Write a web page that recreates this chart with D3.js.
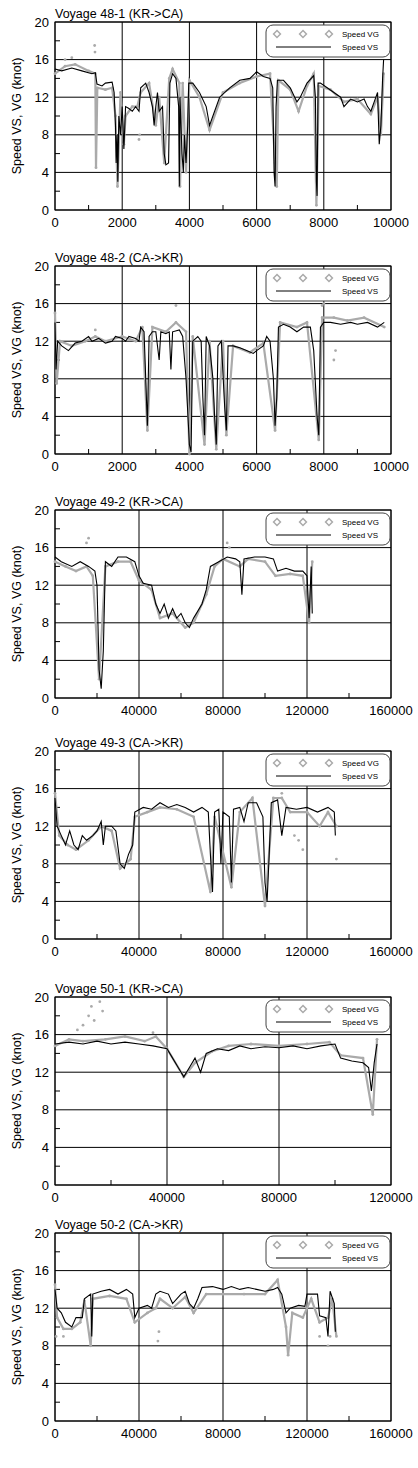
<!DOCTYPE html><html><head><meta charset="utf-8">
<script src="https://cdn.jsdelivr.net/npm/d3@7"></script>
<style>body{margin:0;background:#fff}svg{font-family:"Liberation Sans",Arial,sans-serif}</style></head><body>
<svg id="c" width="418" height="1468"></svg>
<script>
const titles=["Voyage 48-1 (KR->CA)","Voyage 48-2 (CA->KR)","Voyage 49-2 (KR->CA)","Voyage 49-3 (CA->KR)","Voyage 50-1 (KR->CA)","Voyage 50-2 (CA->KR)"];
const xMax=[10000,10000,160000,160000,120000,160000];
const xTickStep=[2000,2000,40000,40000,40000,40000];
const yTicks=[0,4,8,12,16,20];
const vs1=[[0,15],[200,14.8],[500,15.1],[800,14.8],[1100,14.5],[1200,14.6],[1250,13.4],[1400,13.2],[1500,13.5],[1700,13.6],[1760,12.5],[1800,9],[1820,5],[1850,8],[1870,3],[1900,10],[1950,8],[2000,11],[2050,6.5],[2100,11],[2200,10.8],[2300,10.5],[2400,11],[2500,10.5],[2550,13],[2700,13.5],[2800,12.5],[2900,11],[2950,9],[3000,11],[3050,12.5],[3100,10.5],[3200,11],[3250,6],[3300,4.8],[3380,5],[3420,13.5],[3500,14.5],[3600,14],[3680,11],[3700,2.5],[3720,12],[3780,6],[3820,4],[3850,8],[3900,5],[3950,9],[3980,13.5],[4100,13.5],[4300,12.5],[4500,11],[4600,9],[4700,10],[4900,12],[5200,13],[5500,13.8],[5800,14],[6000,14.7],[6200,14.2],[6400,14],[6480,13],[6520,4],[6550,2.5],[6580,11],[6620,13.8],[6800,13.8],[7000,13],[7200,11.5],[7300,12],[7500,13.5],[7700,14.3],[7750,12],[7780,3],[7800,1.5],[7830,13.5],[7900,13.5],[8100,13],[8300,12.5],[8500,12],[8600,11],[8800,11.8],[9000,11.5],[9200,11.8],[9300,11],[9400,10.5],[9500,11.5],[9600,12.5],[9650,7],[9700,9],[9750,14],[9780,16]];
const vg1=[[0,14.5],[300,15.3],[600,15.5],[1000,14.8],[1200,14.5],[1220,4.5],[1260,13],[1500,12.8],[1700,13],[1800,10],[1860,2.5],[1950,12.5],[2050,7],[2100,10],[2300,11],[2450,11],[2550,12.5],[2800,13.5],[3000,9],[3100,12],[3250,5],[3400,14],[3500,15],[3700,13.5],[3720,2.5],[3800,13.5],[3900,4],[4000,13.8],[4300,12],[4600,8.5],[5000,12.5],[5500,13.5],[6000,14.2],[6400,14.5],[6550,5],[6600,2.5],[6650,13.8],[7000,12.8],[7250,10.5],[7500,13.2],[7700,14.5],[7780,0.5],[7850,13.2],[8200,12.8],[8600,11.5],[9000,11.8],[9400,10.2],[9600,12],[9700,8],[9780,14.5]];
const out1=[[1180,17.5],[1190,16.8],[2500,7.5],[2520,8],[300,16],[500,16.2]];
const vs2=[[0,14],[30,9],[80,12],[200,11.5],[400,11],[600,11.8],[800,12],[1000,12.5],[1100,12],[1300,12.3],[1500,11.8],[1700,12],[1800,12.5],[2000,12.3],[2100,12],[2200,12.5],[2400,12.3],[2500,12],[2550,13.5],[2650,13],[2700,8],[2750,3],[2800,12.5],[2900,13],[3000,13],[3100,10],[3150,13],[3300,12.8],[3400,13],[3450,9],[3500,13],[3700,13.2],[3800,12.5],[3900,8],[4000,1],[4050,0.2],[4100,12],[4250,12.5],[4350,12],[4400,6],[4450,2],[4500,12.5],[4600,11.5],[4700,8],[4750,4],[4800,1],[4850,11.5],[4950,12],[5050,5],[5100,2.5],[5150,11.5],[5300,11.5],[5500,11.3],[5700,11],[5900,10.7],[6000,11],[6200,11.5],[6300,12.5],[6400,12],[6500,8],[6550,3],[6600,6],[6650,13.5],[6800,13.8],[7000,13.5],[7200,13],[7400,13.5],[7600,13.5],[7700,11],[7800,4],[7850,2],[7900,13.5],[8000,14],[8200,14],[8500,13.8],[8800,14],[9000,13.8],[9300,14],[9600,13.5],[9800,14]];
const vg2=[[0,15],[50,7.5],[150,12],[500,11.5],[900,12],[1200,12.5],[1500,12],[2000,12.5],[2400,12],[2600,13.5],[2750,2.5],[2900,13.5],[3300,13],[3600,14],[3900,13],[4000,0],[4100,12.5],[4450,1],[4600,12],[4800,0.5],[5000,12],[5100,2],[5300,11.5],[5800,10.8],[6200,11.8],[6550,2.5],[6700,14],[7200,13.5],[7500,14],[7850,1.5],[7950,14.5],[8300,14.5],[8700,14.2],[9200,14.5],[9800,13.5]];
const out2=[[3600,15.8],[7950,15.8],[8000,16],[1200,13.2],[8300,10],[8350,11]];
const vs3=[[0,15],[3000,14.5],[8000,14],[12000,14.5],[16000,14],[19000,13.5],[20000,12],[21000,3],[22000,1],[23000,5],[24000,14.5],[27000,14],[30000,15],[34000,15],[38000,14.5],[40000,13],[42000,12.2],[46000,12],[48000,10],[50000,9],[52000,10],[54000,8.5],[56000,9.5],[58000,8.5],[60000,9],[62000,8],[64000,7.5],[66000,8.5],[70000,10],[72000,11.5],[74000,14],[78000,14.5],[82000,15],[86000,14.8],[88000,14.5],[89000,11],[90000,14.8],[95000,15],[100000,15],[104000,14.8],[106000,13.5],[110000,13.8],[114000,13.5],[118000,13.5],[120000,13],[121000,8.5],[122000,14],[122500,9]];
const vg3=[[0,14.5],[5000,14],[10000,13.5],[15000,14],[18000,13],[21000,2],[24000,14],[30000,14.5],[36000,14.5],[40000,12.5],[46000,11.5],[50000,8.5],[56000,9],[62000,7.5],[66000,8],[72000,11],[76000,14],[80000,14.8],[88000,14],[92000,14.8],[100000,14.5],[105000,13],[112000,13.2],[118000,13],[121000,8],[122500,14.5]];
const out3=[[15000,16.5],[16000,17],[82000,16.5],[83000,16]];
const vs4=[[0,15],[1000,12],[3000,11],[5000,10],[7000,11.5],[9000,10],[11000,9.5],[13000,11],[15000,10.5],[18000,11],[20000,11.5],[22000,12.5],[23000,10],[24000,12],[27000,12],[29000,11.5],[31000,8],[33000,7.5],[35000,9],[37000,10],[38000,13.5],[42000,14],[46000,13.8],[50000,14.5],[54000,14],[58000,14.3],[62000,14],[66000,13.5],[70000,14],[73000,13.5],[74000,9],[75000,5],[76000,13.5],[78000,13.8],[79000,8],[80000,13.5],[83000,13],[84000,6],[85000,13.8],[88000,14],[90000,12.5],[92000,14.5],[96000,14.5],[99000,13],[100000,6],[101000,4],[102000,9],[103000,14.5],[106000,14.8],[108000,11],[110000,14],[115000,13.8],[120000,14],[125000,13.5],[130000,14],[133000,13.5],[133500,11]];
const vg4=[[0,15.5],[2000,11],[6000,10],[10000,9.5],[16000,10.5],[22000,12],[27000,11.5],[31000,7.5],[36000,8.5],[38000,13],[44000,13.5],[50000,14],[58000,13.8],[66000,13],[74000,5],[76000,13],[84000,5.5],[88000,13.5],[94000,15],[100000,3.5],[104000,15],[108000,15],[112000,13.5],[120000,13.5],[126000,12],[130000,13.5],[134000,12]];
const out4=[[114000,11],[116000,10.5],[118000,9.5],[134000,8.5],[108000,15.5]];
const vs5=[[0,15],[5000,15.2],[10000,15],[15000,15.3],[20000,15],[25000,15.2],[30000,15],[35000,14.8],[40000,14.5],[42000,13.5],[44000,12.5],[46000,11.5],[48000,12.5],[50000,13.5],[52000,12],[54000,14],[58000,14.5],[62000,14.3],[66000,14.8],[70000,14.5],[75000,14.7],[80000,14.6],[85000,14.8],[90000,14.5],[95000,14.8],[100000,15],[102000,13.5],[106000,13.2],[110000,13],[112000,12.5],[113000,10],[114000,13],[115000,15]];
const vg5=[[0,14.8],[5000,15.5],[10000,15.3],[18000,15.5],[25000,15.8],[32000,15.3],[36000,15.8],[40000,14.5],[46000,11.5],[50000,13],[56000,14.2],[62000,14.8],[70000,15],[80000,14.8],[90000,15],[98000,15.2],[102000,13.8],[110000,13.5],[113500,7.5],[115000,15.5]];
const out5=[[8000,16.5],[10000,17],[12000,18],[13000,19],[14000,17.5],[16000,19.5],[17000,18.5],[35000,16.2]];
const vs6=[[0,14],[1000,12],[3000,11.5],[5000,10.5],[8000,10],[10000,11],[13000,11],[14000,13],[17000,13.5],[17500,9],[18000,13.5],[22000,13.8],[26000,14],[30000,13.5],[34000,14],[37000,13.5],[38000,11],[40000,12],[44000,12.3],[46000,12],[48000,13.5],[50000,13.8],[54000,13.5],[56000,12.5],[60000,13.5],[62000,13.8],[64000,12.5],[66000,12],[68000,13],[70000,14.2],[75000,14.3],[80000,14],[84000,14.3],[88000,14],[92000,14.2],[96000,14],[100000,13.8],[104000,14],[106000,14.2],[108000,13.5],[110000,11.5],[112000,12],[116000,12.3],[119000,12.2],[120000,13.5],[125000,13.5],[126000,11.2],[129000,11],[130000,9],[131000,13.8],[133000,12.5],[133500,9.5]];
const vg6=[[0,14.5],[1000,11],[4000,9.8],[8000,9.8],[12000,10.5],[14000,12.8],[17000,8],[18000,13],[26000,13.3],[34000,13],[38000,10.5],[44000,11.5],[48000,12],[50000,13],[56000,12],[62000,13.2],[66000,11.5],[72000,13.5],[80000,13.5],[90000,13.5],[100000,13.5],[106000,15],[110000,10],[111000,7],[113000,11.5],[118000,11],[122000,13],[126000,10.5],[130000,11],[132000,13],[134000,9]];
const out6=[[500,9],[4000,9],[49000,8.5],[49500,9.5],[130000,8],[126000,9],[131000,9]];
const vsAll=[vs1,vs2,vs3,vs4,vs5,vs6], vgAll=[vg1,vg2,vg3,vg4,vg5,vg6], outAll=[out1,out2,out3,out4,out5,out6];
const tops=[22,266,510,751,997,1233], H=188, L=55, R=391;
const svg=d3.select("#c");
titles.forEach((t,i)=>{
  const g=svg.append("g").attr("transform",`translate(0,${tops[i]})`);
  const x=d3.scaleLinear().domain([0,xMax[i]]).range([L,R]);
  const y=d3.scaleLinear().domain([0,20]).range([H,0]);
  const xt=d3.range(0,xMax[i]+1,xTickStep[i]);
  g.selectAll(".gy").data(yTicks).join("line").attr("x1",L).attr("x2",R).attr("y1",d=>y(d)).attr("y2",d=>y(d)).attr("stroke","#000").attr("stroke-width",1);
  g.selectAll(".gx").data(xt).join("line").attr("x1",d=>x(d)).attr("x2",d=>x(d)).attr("y1",0).attr("y2",H).attr("stroke","#000");
  g.selectAll(".my").data([2,6,10,14,18]).join("line").attr("x1",L).attr("x2",L+5).attr("y1",d=>y(d)).attr("y2",d=>y(d)).attr("stroke","#000");
  g.selectAll(".mx").data(xt.slice(0,-1).map(v=>v+xTickStep[i]/2)).join("line").attr("x1",d=>x(d)).attr("x2",d=>x(d)).attr("y1",H).attr("y2",H-5).attr("stroke","#000");
  g.append("rect").attr("x",L).attr("y",0).attr("width",R-L).attr("height",H).attr("fill","none").attr("stroke","#000");
  const ln=d3.line().x(d=>x(d[0])).y(d=>y(d[1]));
  g.append("path").datum(vgAll[i]).attr("d",ln).attr("fill","none").attr("stroke","#aaa").attr("stroke-width",2.2);
  g.selectAll(".pt").data(vgAll[i].concat(outAll[i])).join("circle").attr("cx",d=>x(d[0])).attr("cy",d=>y(d[1])).attr("r",1.4).attr("fill","#aaa");
  g.append("path").datum(vsAll[i]).attr("d",ln).attr("fill","none").attr("stroke","#000").attr("stroke-width",1.1);
  g.selectAll(".yl").data(yTicks).join("text").attr("x",L-6).attr("y",d=>y(d)+4.5).attr("text-anchor","end").attr("font-size",13).text(d=>d);
  g.selectAll(".xl").data(xt).join("text").attr("x",d=>x(d)).attr("y",H+17).attr("text-anchor","middle").attr("font-size",13).text(d=>d);
  g.append("text").attr("x",L).attr("y",-4).attr("font-size",12.5).text(t);
  g.append("text").attr("transform",`translate(21,${H/2}) rotate(-90)`).attr("text-anchor","middle").attr("font-size",12.5).text("Speed VS, VG (knot)");
  const lg=g.append("g").attr("transform",`translate(266,3)`);
  lg.append("rect").attr("width",124).attr("height",32).attr("rx",7).attr("fill","#fff").attr("stroke","#444");
  [11,37,63].forEach(cx=>lg.append("path").attr("d",d3.symbol(d3.symbolDiamond2,30)()).attr("transform",`translate(${cx},9)`).attr("fill","none").attr("stroke","#aaa").attr("stroke-width",1.5));
  lg.append("line").attr("x1",10).attr("x2",65).attr("y1",22).attr("y2",22).attr("stroke","#000");
  lg.append("text").attr("x",76).attr("y",12).attr("font-size",8).text("Speed VG");
  lg.append("text").attr("x",76).attr("y",25).attr("font-size",8).text("Speed VS");
});
</script></body></html>
